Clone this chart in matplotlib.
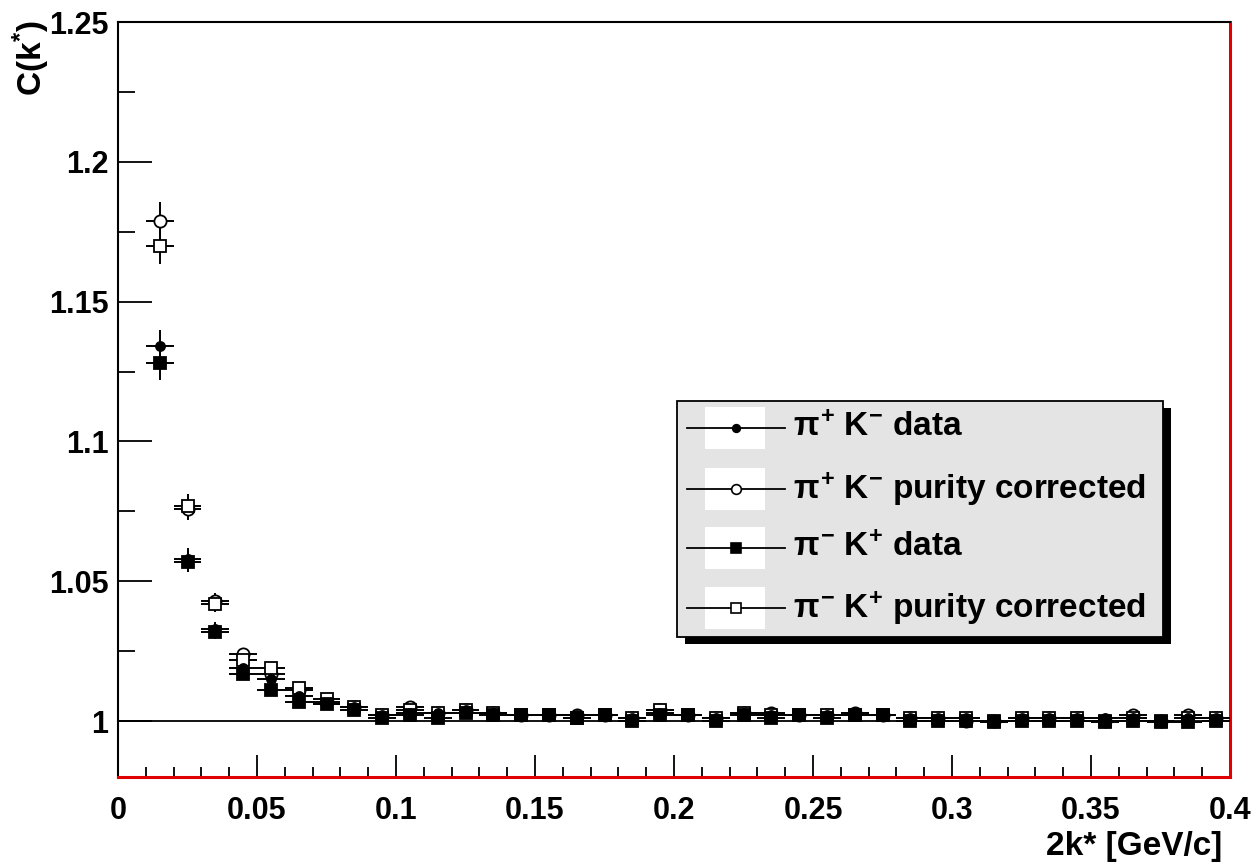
import matplotlib
matplotlib.use("Agg")
import matplotlib.pyplot as plt
from matplotlib.patches import Rectangle
from matplotlib.lines import Line2D
from matplotlib.transforms import Affine2D
from matplotlib.ticker import FixedLocator

plt.rcParams["font.family"] = ["Liberation Sans", "DejaVu Sans"]
plt.rcParams["font.weight"] = "bold"
plt.rcParams["mathtext.fontset"] = "custom"
plt.rcParams["mathtext.rm"] = "Liberation Sans:bold"
plt.rcParams["mathtext.it"] = "Liberation Sans:bold"
plt.rcParams["mathtext.bf"] = "Liberation Sans:bold"

# bin centres in 2k* [GeV/c], bin width 0.01
kstar = [0.015, 0.025, 0.035, 0.045, 0.055, 0.065, 0.075, 0.085, 0.095, 0.105,
         0.115, 0.125, 0.135, 0.145, 0.155, 0.165, 0.175, 0.185, 0.195, 0.205,
         0.215, 0.225, 0.235, 0.245, 0.255, 0.265, 0.275, 0.285, 0.295, 0.305,
         0.315, 0.325, 0.335, 0.345, 0.355, 0.365, 0.375, 0.385, 0.395]
half_bin = 0.005

pipKm_data = [1.134, 1.058, 1.033, 1.019, 1.015, 1.009, 1.006, 1.005, 1.002, 1.003,
              1.003, 1.004, 1.003, 1.002, 1.002, 1.002, 1.002, 1.001, 1.003, 1.002,
              1.001, 1.003, 1.002, 1.002, 1.002, 1.003, 1.002, 1.001, 1.001, 1.001,
              1.000, 1.001, 1.001, 1.001, 1.001, 1.001, 1.000, 1.001, 1.001]
pipKm_pur = [1.179, 1.076, 1.043, 1.024, 1.017, 1.011, 1.007, 1.005, 1.002, 1.005,
             1.003, 1.004, 1.003, 1.002, 1.002, 1.002, 1.002, 1.001, 1.004, 1.002,
             1.001, 1.003, 1.003, 1.002, 1.002, 1.003, 1.002, 1.001, 1.001, 1.000,
             1.000, 1.001, 1.001, 1.001, 1.000, 1.002, 1.000, 1.002, 1.001]
pimKp_data = [1.128, 1.057, 1.032, 1.017, 1.011, 1.007, 1.006, 1.004, 1.001, 1.002,
              1.001, 1.003, 1.002, 1.002, 1.002, 1.001, 1.002, 1.000, 1.002, 1.002,
              1.000, 1.002, 1.001, 1.002, 1.001, 1.002, 1.002, 1.000, 1.000, 1.000,
              0.9995, 1.000, 1.000, 1.000, 0.9995, 1.000, 0.9995, 0.9995, 1.000]
pimKp_pur = [1.170, 1.077, 1.042, 1.022, 1.019, 1.012, 1.008, 1.005, 1.002, 1.004,
             1.003, 1.004, 1.003, 1.002, 1.002, 1.001, 1.002, 1.001, 1.004, 1.002,
             1.001, 1.003, 1.002, 1.002, 1.002, 1.002, 1.002, 1.001, 1.001, 1.001,
             1.000, 1.001, 1.001, 1.001, 1.000, 1.001, 1.000, 1.001, 1.001]

err_data = [0.0060, 0.0038, 0.0026, 0.0021, 0.0018, 0.0016, 0.0015, 0.0014, 0.0013, 0.0013,
            0.0013, 0.0012, 0.0012, 0.0012, 0.0012, 0.0012, 0.0012, 0.0012, 0.0012, 0.0012,
            0.0012, 0.0012, 0.0012, 0.0012, 0.0012, 0.0012, 0.0012, 0.0012, 0.0012, 0.0012,
            0.0012, 0.0012, 0.0012, 0.0012, 0.0012, 0.0012, 0.0012, 0.0012, 0.0012]
err_pur = [0.0066, 0.0042, 0.0029, 0.0023, 0.0020, 0.0018, 0.0016, 0.0015, 0.0014, 0.0014,
           0.0014, 0.0013, 0.0013, 0.0013, 0.0013, 0.0013, 0.0013, 0.0013, 0.0013, 0.0013,
           0.0013, 0.0013, 0.0013, 0.0013, 0.0013, 0.0013, 0.0013, 0.0013, 0.0013, 0.0013,
           0.0013, 0.0013, 0.0013, 0.0013, 0.0013, 0.0013, 0.0013, 0.0013, 0.0013]

x_ticks = [0.0, 0.05, 0.1, 0.15, 0.2, 0.25, 0.3, 0.35, 0.4]
x_ticklabels = ["0", "0.05", "0.1", "0.15", "0.2", "0.25", "0.3", "0.35", "0.4"]
y_ticks = [1.0, 1.05, 1.1, 1.15, 1.2, 1.25]
y_ticklabels = ["1", "1.05", "1.1", "1.15", "1.2", "1.25"]

labels = [r"$\pi^{+}$ K$^{-}$ data",
          r"$\pi^{+}$ K$^{-}$ purity corrected",
          r"$\pi^{-}$ K$^{+}$ data",
          r"$\pi^{-}$ K$^{+}$ purity corrected"]

W, H = 1257, 868
fig = plt.figure(figsize=(W / 100, H / 100), dpi=100)
fig.patch.set_facecolor("white")
ax = fig.add_axes([118 / W, 1 - 777 / H, (1230 - 118) / W, (777 - 22) / H])

styles = [
    dict(y=pipKm_data, e=err_data, marker="o", ms=6.5, mfc="black", lms=5.5),
    dict(y=pipKm_pur, e=err_pur, marker="o", ms=8.8, mfc="white", lms=7.0),
    dict(y=pimKp_data, e=err_data, marker="s", ms=8.8, mfc="black", lms=7.0),
    dict(y=pimKp_pur, e=err_pur, marker="s", ms=8.6, mfc="white", lms=7.0),
]
for st in [styles[1], styles[3], styles[0], styles[2]]:
    ax.errorbar(kstar, st["y"], xerr=half_bin, yerr=st["e"], fmt=st["marker"],
                ms=st["ms"], mfc=st["mfc"], mec="black", mew=1.3,
                ecolor="black", elinewidth=1.4, capsize=0, zorder=3)

ax.axhline(1.0, color="black", lw=1.3, zorder=2)

ax.set_xlim(0, 0.4)
ax.set_ylim(0.98, 1.25)

ax.xaxis.set_major_locator(FixedLocator(x_ticks))
ax.xaxis.set_minor_locator(FixedLocator([round(0.01 * i, 3) for i in range(41) if i % 5]))
ax.yaxis.set_major_locator(FixedLocator(y_ticks))
ax.yaxis.set_minor_locator(FixedLocator([1.025, 1.075, 1.125, 1.175, 1.225]))
ax.set_xticklabels(x_ticklabels)
ax.set_yticklabels(y_ticklabels)

ax.tick_params(axis="both", which="both", direction="in", color="black", width=1.3,
               top=False, right=False, labelsize=22)
ax.tick_params(axis="y", which="major", length=24.5, pad=7)
ax.tick_params(axis="y", which="minor", length=12)
ax.tick_params(axis="x", which="major", length=16, pad=14)
ax.tick_params(axis="x", which="minor", length=7.5)
for lab in ax.get_xticklabels() + ax.get_yticklabels():
    lab.set_fontweight("bold")

for side in ("left", "top"):
    ax.spines[side].set_color("black")
    ax.spines[side].set_linewidth(1.5)
for side in ("right", "bottom"):
    ax.spines[side].set_color("#e00000")
    ax.spines[side].set_linewidth(2.2)

# pixel (top-left origin) to figure coordinates
px = Affine2D().scale(1 / W, -1 / H).translate(0, 1) + fig.transFigure

fig.text(31, 58, r"C(k$^{*}$)", transform=px, rotation=90, ha="center", va="center",
         fontsize=24, fontweight="bold")
fig.text(1222, 847, "2k* [GeV/c]", transform=px, ha="right", va="center",
         fontsize=24, fontweight="bold")

# legend box with drop shadow
lx0, ly0, lx1, ly1 = 677, 401, 1163, 637
fig.patches.append(Rectangle((lx0 + 8, ly1 + 7), lx1 - lx0, ly0 - ly1, transform=px,
                             facecolor="black", edgecolor="none", zorder=5))
fig.patches.append(Rectangle((lx0, ly1), lx1 - lx0, ly0 - ly1, transform=px,
                             facecolor="#e4e4e4", edgecolor="black", lw=1.3, zorder=6))
entry_y = [428, 489, 548, 608]
for yy, st, lab in zip(entry_y, styles, labels):
    fig.patches.append(Rectangle((705, yy + 21), 60, -42, transform=px,
                                 facecolor="white", edgecolor="none", zorder=7))
    fig.lines.append(Line2D([687, 785], [yy, yy], transform=px, color="black",
                            lw=1.3, zorder=8))
    fig.lines.append(Line2D([736], [yy], transform=px, marker=st["marker"],
                            ms=st["lms"], mfc=st["mfc"], mec="black", mew=1.2,
                            lw=0, zorder=9))
    fig.text(793, yy, lab, transform=px, ha="left", va="center", fontsize=24,
             fontweight="bold", zorder=9)

fig.savefig("out.png", dpi=100, facecolor="white")
